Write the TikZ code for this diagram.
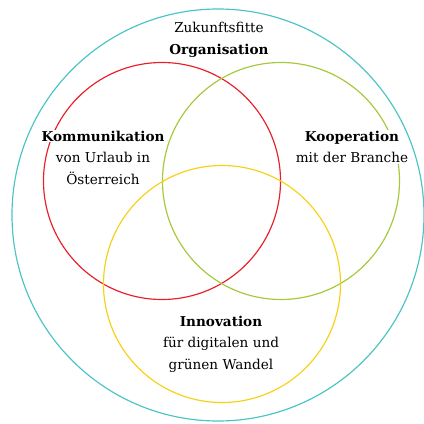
\documentclass[tikz,border=0pt]{standalone}
\usepackage{fontspec}
\setmainfont{DejaVu Serif}
\definecolor{ringteal}{HTML}{4CC4C6}
\definecolor{ringred}{HTML}{E8202A}
\definecolor{ringgreen}{HTML}{A5C93B}
\definecolor{ringyellow}{HTML}{F7D116}
\tikzset{
  ring/.style={line width=1pt},
  label/.style={inner sep=1pt, align=center, font=\fontsize{11.6}{18.3}\selectfont},
  masked/.style={label, fill=white}
}
\begin{document}
\begin{tikzpicture}[x=0.03cm,y=-0.03cm]
	\useasboundingbox (0,0) rectangle (424,423);
	\draw[ring, color=ringred] (162,181) circle (118.5);
	\draw[ring, color=ringgreen] (281,181) circle (118.5);
	% texts
	\node[label] (zukunft) at (219,40) {Zukunftsfitte\\\textbf{Organisation}};
	\node[masked] (kommunikation) at (103,136) {\textbf{Kommunikation}};
	\node[label] (urlaub) at (103,168.5) {von Urlaub in\\Österreich};
	\node[masked] (kooperation) at (352,147) {\textbf{Kooperation}\\mit der Branche};
	\node[label] (innovation) at (221,344) {\textbf{Innovation}\\für digitalen und\\grünen Wandel};
	\begin{scope}
		\clip (0,0) rectangle (424,423);
		\draw[ring, color=ringteal] (218,215) circle (206);
	\end{scope}
	\draw[ring, color=ringyellow] (222,284) circle (118.5);
\end{tikzpicture}
\end{document}
